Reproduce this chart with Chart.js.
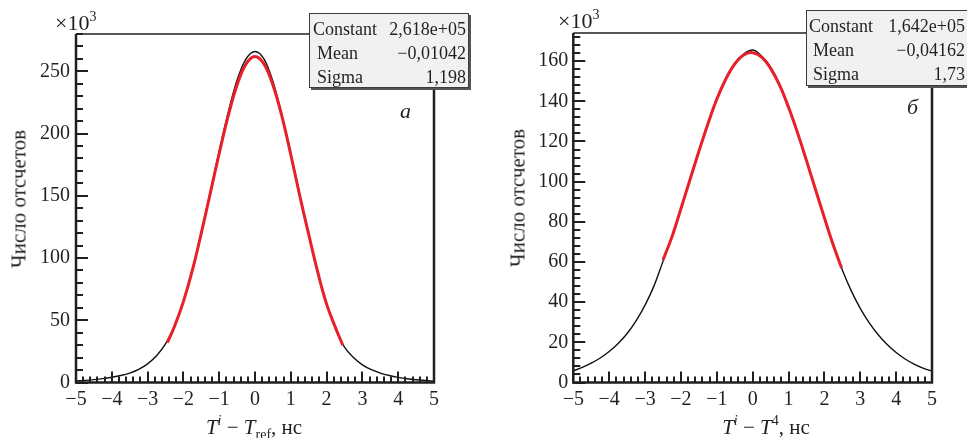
<!DOCTYPE html>
<html>
<head>
<meta charset="utf-8">
<script src="https://cdn.jsdelivr.net/npm/chart.js@4.4.1/dist/chart.umd.min.js"></script>
<style>
  body { margin: 0; background: #fff; }
  #wrap { position: relative; width: 967px; height: 438px; overflow: hidden;
          font-family: "Liberation Serif", "DejaVu Serif", serif; color: #231f20; }
  canvas { position: absolute; top: 0; }
  .t { position: absolute; white-space: nowrap; line-height: 1; }
  .ytitle { font-size: 21px; transform: translate(-50%, -50%) rotate(-90deg); }
  .xtitle { font-size: 21px; transform: translateX(-50%); }
  .mult { font-size: 22px; }
  .mult sup { font-size: 14px; vertical-align: 9px; }
  .xtitle i { font-style: italic; }
  .xtitle sup { font-size: 14px; vertical-align: 9px; }
  .xtitle sub { font-size: 14px; vertical-align: -5px; }
  .tag { font-size: 22px; font-style: italic; }
  .stat { position: absolute; background: #f1f1f1; border: 1px solid #3c3c3c;
          box-shadow: 2px 2px 0 #555; font-size: 18px; box-sizing: border-box; padding-top: 3px; }
  .stat .row { position: relative; height: 24px; line-height: 24px; }
  .stat .k { position: absolute; }
  .stat .v { position: absolute; right: 2px; }
</style>
</head>
<body>
<div id="wrap">
  <canvas id="chartA" width="480" height="438" style="left:0"></canvas>
  <canvas id="chartB" width="477" height="438" style="left:490px"></canvas>

  <div class="t mult" style="left:55px;top:10px">×10<sup>3</sup></div>
  <div class="t mult" style="left:558px;top:8px">×10<sup>3</sup></div>

  <div class="t ytitle" style="left:19px;top:199px">Число отсчетов</div>
  <div class="t ytitle" style="left:518px;top:198px">Число отсчетов</div>

  <div class="t xtitle" style="left:254px;top:414px"><i>T</i><sup><i>i</i></sup> − <i>T</i><sub>ref</sub>, нс</div>
  <div class="t xtitle" style="left:766px;top:414px"><i>T</i><sup><i>i</i></sup> − <i>T</i><sup>4</sup>, нс</div>

  <div class="t tag" style="left:400px;top:100px">а</div>
  <div class="t tag" style="left:907px;top:96px">б</div>

  <div class="stat" style="left:309px;top:13px;width:160px;height:75px">
    <div class="row"><span class="k" style="left:3px">Constant</span><span class="v">2,618e+05</span></div>
    <div class="row"><span class="k" style="left:7px">Mean</span><span class="v">−0,01042</span></div>
    <div class="row"><span class="k" style="left:7px">Sigma</span><span class="v">1,198</span></div>
  </div>
  <div class="stat" style="left:806px;top:10px;width:170px;height:76px">
    <div class="row"><span class="k" style="left:2px">Constant</span><span class="v" style="right:10px">1,642e+05</span></div>
    <div class="row"><span class="k" style="left:6px">Mean</span><span class="v" style="right:10px">−0,04162</span></div>
    <div class="row"><span class="k" style="left:6px">Sigma</span><span class="v" style="right:10px">1,73</span></div>
  </div>
</div>

<script>
// histogram bin centres (ns), shared by both panels
const binX = [-5, -4.75, -4.5, -4.25, -4, -3.75, -3.5, -3.25, -3, -2.75, -2.5, -2.25, -2, -1.75, -1.5, -1.25, -1,
  -0.75, -0.5, -0.25, 0, 0.25, 0.5, 0.75, 1, 1.25, 1.5, 1.75, 2, 2.25, 2.5, 2.75, 3, 3.25, 3.5, 3.75, 4,
  4.25, 4.5, 4.75, 5];

// panel a: counts, x10^3
const countsA = [1.3, 1.7, 2.3, 3.1, 4.2, 5.6, 7.6, 10.6, 15.0, 21.5, 31, 45, 65, 91, 121, 153, 186,
  217, 243, 260, 266, 260, 242, 215, 184, 151, 119, 89, 63, 43, 28.5, 20, 14.2, 10.3, 7.6, 5.6, 4.1,
  3.0, 2.2, 1.6, 1.1];
const fitXA = [-2.45, -2.25, -2, -1.75, -1.5, -1.25, -1, -0.75, -0.5, -0.25, 0, 0.25, 0.5, 0.75, 1, 1.25,
  1.5, 1.75, 2, 2.25, 2.45];
const fitA = [32, 45, 65, 90, 120, 152, 184, 214, 239, 256, 262, 256, 239, 214, 183, 150, 119, 89, 63, 44, 30];

// panel б: counts, x10^3
const countsB = [5.8, 7.5, 9.6, 12.2, 15.4, 19.4, 24.4, 30.7, 38.5, 48.1, 60.3, 72.5, 86.5, 101, 115.5, 129, 141.5,
  151.5, 159, 163.5, 165.5, 162.5, 157, 148.5, 137.5, 124.5, 110.5, 96, 82, 68.5, 56, 45.6, 36.9, 29.7, 23.8, 18.9, 14.9,
  11.7, 9.2, 7.2, 5.6];
const fitXB = [-2.5, -2.25, -2, -1.75, -1.5, -1.25, -1, -0.75, -0.5, -0.25, 0, 0.25, 0.5, 0.75, 1, 1.25,
  1.5, 1.75, 2, 2.25, 2.48];
const fitB = [61, 72.5, 86.5, 100.8, 115, 128.6, 141, 151, 158.5, 163, 164.2, 162, 156.4, 148, 137, 124.4,
  110.5, 96.2, 82, 68.3, 57];

const INK = '#231f20';
const FIT_RED = '#e8202a';
const TICK_FONT = { family: '"Liberation Serif", serif', size: 20, lineHeight: 1.2 };

const fmt = v => (v < 0 ? '\u2212' + Math.abs(v) : String(v));
const isWhole = v => Math.abs(v - Math.round(v)) < 1e-6;

function stroke(ctx, x1, y1, x2, y2) {
  ctx.beginPath();
  ctx.moveTo(x1, y1);
  ctx.lineTo(x2, y2);
  ctx.stroke();
}

// inward ticks + ROOT-like frame
const frameTicks = {
  id: 'frameTicks',
  afterDraw(chart) {
    const { ctx, chartArea: a, scales: { x, y } } = chart;
    const yMajor = chart.options.plugins.frameTicks.yMajor;
    ctx.save();
    ctx.strokeStyle = INK;
    ctx.lineWidth = 2;
    x.ticks.forEach(t => {
      const px = Math.round(x.getPixelForValue(t.value));
      stroke(ctx, px, a.bottom, px, a.bottom - (isWhole(t.value) ? 11 : 6));
    });
    y.ticks.forEach(t => {
      const py = Math.round(y.getPixelForValue(t.value));
      stroke(ctx, a.left, py, a.left + (t.value % yMajor === 0 ? 12 : 7), py);
    });

    ctx.lineWidth = 1.4;
    stroke(ctx, a.left, a.top, a.right, a.top);

    ctx.lineWidth = 2.5;
    ctx.beginPath();
    ctx.moveTo(a.left, a.top);
    ctx.lineTo(a.left, a.bottom);
    ctx.lineTo(a.right, a.bottom);
    ctx.lineTo(a.right, a.top);
    ctx.stroke();
    ctx.restore();
  }
};

function makePanel(canvasId, p) {
  const ctx = document.getElementById(canvasId).getContext('2d');
  return new Chart(ctx, {
    type: 'line',
    data: {
      datasets: [
        {
          label: 'fit',
          data: p.fitX.map((x, i) => ({ x, y: p.fit[i] })),
          borderColor: FIT_RED,
          borderWidth: 3,
          pointRadius: 0,
          tension: 0.4,
          order: 0
        },
        {
          label: 'data',
          data: binX.map((x, i) => ({ x, y: p.counts[i] })),
          borderColor: '#111',
          borderWidth: 1.4,
          pointRadius: 0,
          cubicInterpolationMode: 'monotone',
          order: 1
        }
      ]
    },
    options: {
      responsive: false,
      animation: false,
      devicePixelRatio: 1,
      layout: { padding: p.padding },
      plugins: {
        legend: { display: false },
        tooltip: { enabled: false },
        frameTicks: { yMajor: p.yMajor }
      },
      scales: {
        x: {
          type: 'linear',
          min: -5,
          max: 5,
          grid: { display: false, drawTicks: false },
          border: { display: false },
          ticks: {
            stepSize: 0.2,
            autoSkip: false,
            maxRotation: 0,
            minRotation: 0,
            padding: 5,
            color: INK,
            font: TICK_FONT,
            callback: v => (isWhole(v) ? fmt(Math.round(v)) : '')
          },
          afterFit: s => { s.height = p.xHeight; }
        },
        y: {
          min: 0,
          max: p.yMax,
          grid: { display: false, drawTicks: false },
          border: { display: false },
          ticks: {
            stepSize: p.yStep,
            autoSkip: false,
            includeBounds: false,
            padding: p.yPad,
            color: INK,
            font: TICK_FONT,
            callback: v => (v % p.yMajor === 0 ? String(v) : '')
          },
          afterFit: s => { s.width = p.yWidth; }
        }
      }
    },
    plugins: [frameTicks]
  });
}

makePanel('chartA', {
  counts: countsA, fitX: fitXA, fit: fitA,
  yMax: 280, yStep: 10, yMajor: 50,
  yWidth: 76, yPad: 6, xHeight: 55.5,
  padding: { left: 0, top: 34, right: 46, bottom: 0 }
});

makePanel('chartB', {
  counts: countsB, fitX: fitXB, fit: fitB,
  yMax: 174, yStep: 4, yMajor: 20,
  yWidth: 83.3, yPad: 5, xHeight: 55.5,
  padding: { left: 0, top: 33, right: 35, bottom: 0 }
});
</script>
</body>
</html>
